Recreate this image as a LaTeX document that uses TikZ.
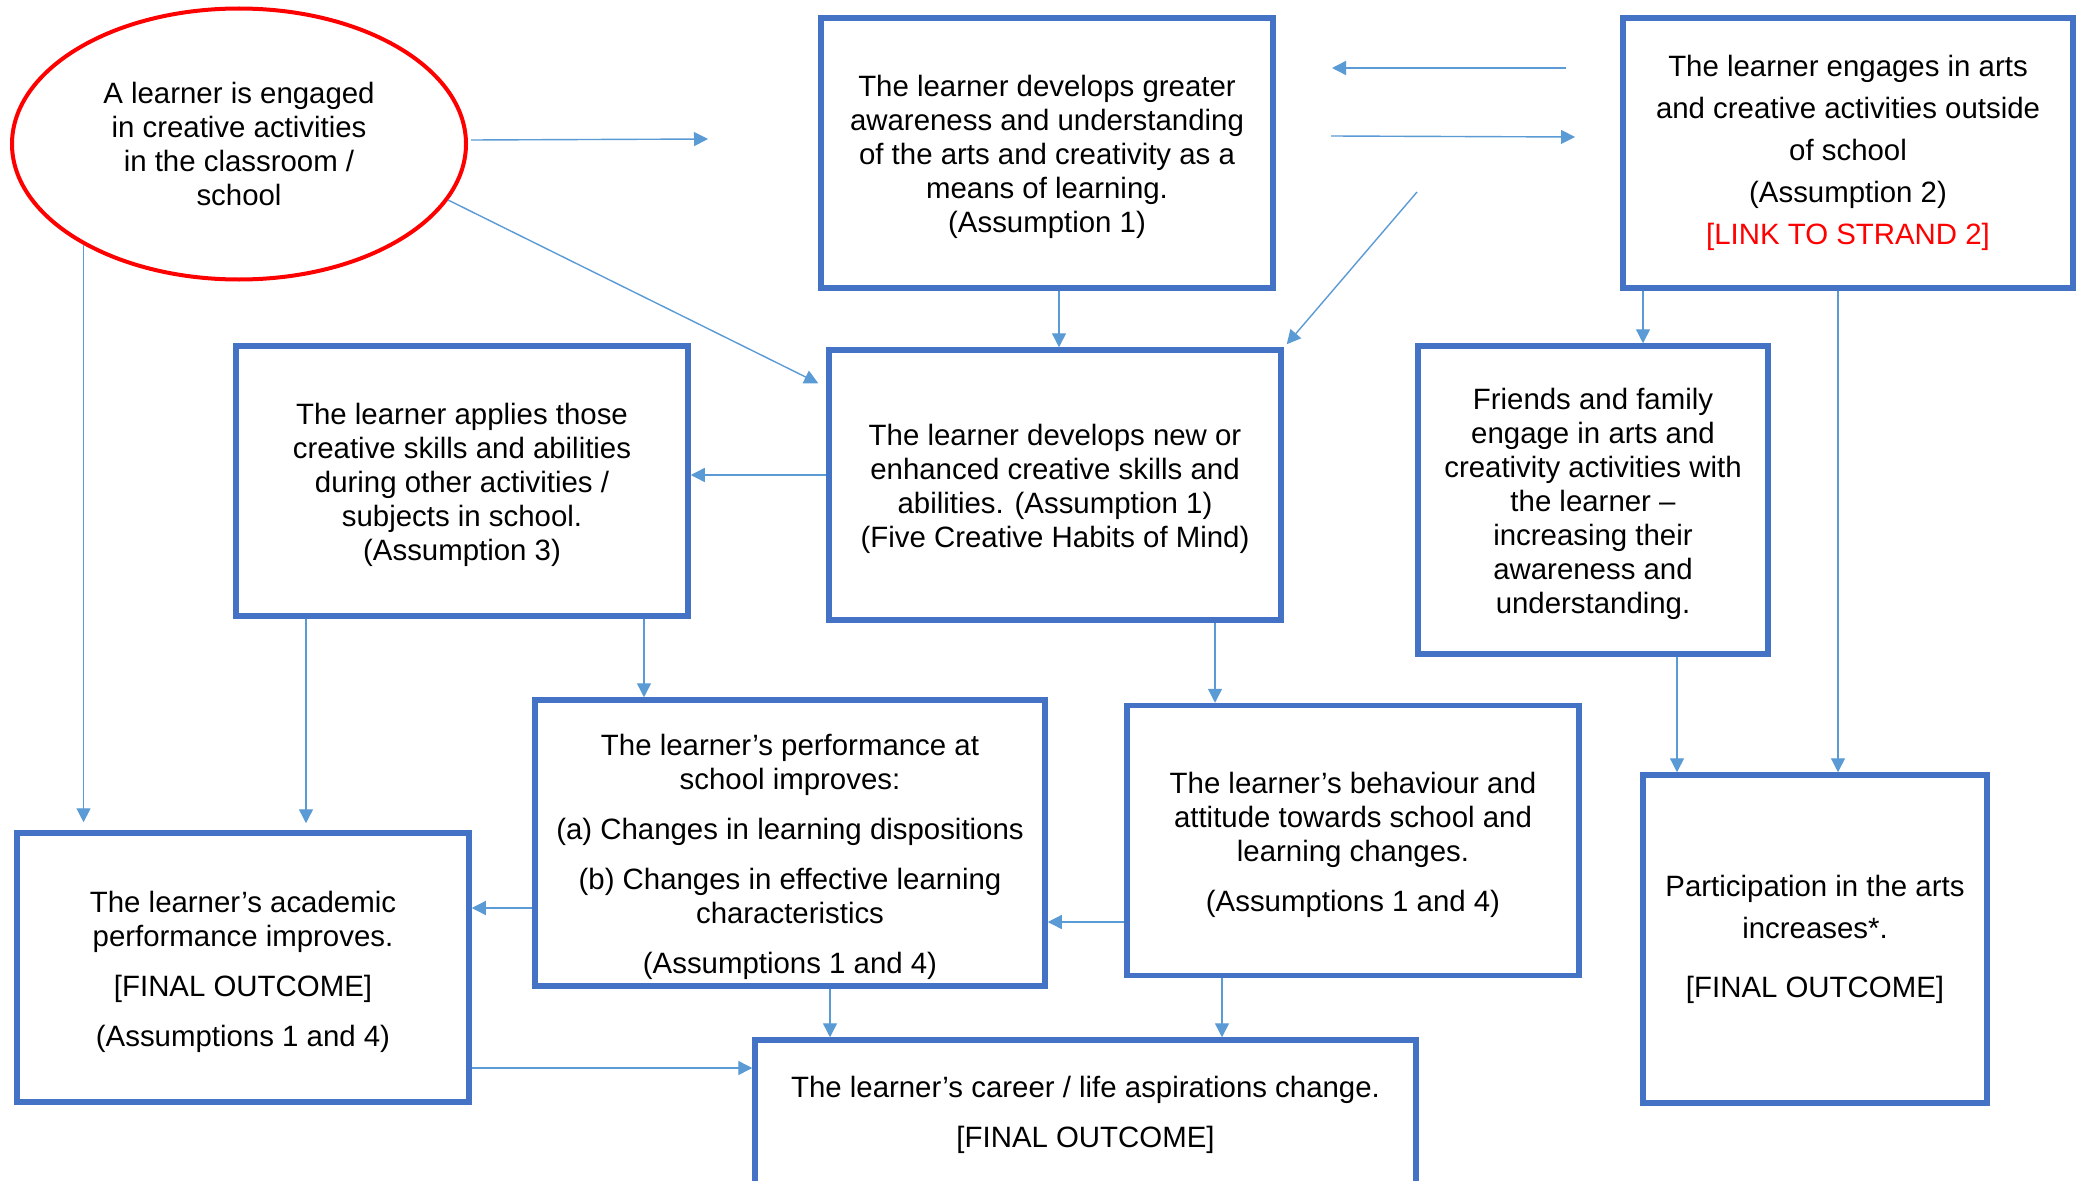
\documentclass[tikz,border=0pt]{standalone}
\usepackage{fontspec}
\setmainfont{Liberation Sans}
\usetikzlibrary{arrows.meta,calc,shapes.geometric}
\definecolor{boxblue}{HTML}{4472C4}
\definecolor{arrblue}{HTML}{5B9BD5}
\definecolor{linkred}{HTML}{FF0000}
\begin{document}
\begin{tikzpicture}[x=1pt,y=-1pt,
  box/.style={draw=boxblue,line width=5.5pt,rectangle,inner sep=0pt,align=center,
    font=\fontsize{29.4}{34}\selectfont},
  txt/.style={inner sep=0pt,align=center,font=\fontsize{29.4}{34}\selectfont},
  ell/.style={draw=red,line width=4pt,ellipse,inner sep=0pt,align=center,
    font=\fontsize{29.4}{34}\selectfont},
  arr/.style={draw=arrblue,line width=1.4pt,-{Triangle[length=14pt,width=14pt]}},
  ]
\useasboundingbox (0,0) rectangle (2076,1180);
\fill[white] (0,0) rectangle (2076,1180);

% nodes
\node[ell,minimum width=454pt,minimum height=271pt] (L) at (239,144)
  {A learner is engaged\\in creative activities\\in the classroom /\\school};
\node[box,minimum width=452pt,minimum height=270pt] (A) at (1047,153) {};
\node[txt] (At) at (1047,157)
  {The learner develops greater\\awareness and understanding\\of the arts and creativity as a\\means of learning.\\(Assumption 1)};
\node[box,minimum width=450pt,minimum height=270pt,font=\fontsize{29.4}{42}\selectfont] (D) at (1848,153)
  {The learner engages in arts\\and creative activities outside\\of school\\(Assumption 2)\\{\color{linkred}[LINK TO STRAND 2]}};
\node[box,minimum width=452pt,minimum height=270pt] (C) at (462,481) {};
\node[txt] (Ct) at (462,485)
  {The learner applies those\\creative skills and abilities\\during other activities /\\subjects in school.\\(Assumption 3)};
\node[box,minimum width=452pt,minimum height=270pt] (B) at (1055,485) {};
\node[txt] (Bt) at (1055,489)
  {The learner develops new or\\enhanced creative skills and\\abilities. (Assumption 1)\\(Five Creative Habits of Mind)};
\node[box,minimum width=350pt,minimum height=308pt] (E) at (1593,500) {};
\node[txt] (Et) at (1593,504)
  {Friends and family\\engage in arts and\\creativity activities with\\the learner –\\increasing their\\awareness and\\understanding.};
\node[box,minimum width=510pt,minimum height=286pt] (H) at (790,843) {};
\node[txt] (Ht) at (790,857)
  {The learner’s performance at\\school improves:\\[16pt](a) Changes in learning dispositions\\[16pt](b) Changes in effective learning\\characteristics\\[16pt](Assumptions 1 and 4)};
\node[box,minimum width=452pt,minimum height=269pt] (G) at (243,967.5) {};
\node[txt] (Gt) at (243,971.5)
  {The learner’s academic\\performance improves.\\[16pt]{[FINAL OUTCOME]}\\[16pt](Assumptions 1 and 4)};
\node[box,minimum width=452pt,minimum height=270pt] (J) at (1353,840.5) {};
\node[txt] (Jt) at (1353,844.5)
  {The learner’s behaviour and\\attitude towards school and\\learning changes.\\[16pt](Assumptions 1 and 4)};
\node[box,minimum width=344pt,minimum height=328pt,font=\fontsize{29.4}{42}\selectfont] (K) at (1815,939)
  {Participation in the arts\\increases*.\\[17pt]{[FINAL OUTCOME]}};
\node[box,minimum width=661pt,minimum height=150pt] (I) at (1085.5,1115)
  {The learner’s career / life aspirations change.\\[16pt]{[FINAL OUTCOME]}};

% helper coordinates
\coordinate (f1) at (708,139);
\coordinate (f2s) at (1566,68);
\coordinate (f2e) at (1332,68);
\coordinate (f3s) at (1331,136);
\coordinate (f3e) at (1575,137);
\coordinate (f4) at (1417,192);
\coordinate (x1059) at (1059,0);
\coordinate (x1643) at (1643,0);
\coordinate (x1838) at (1838,0);
\coordinate (x306) at (306,0);
\coordinate (x644) at (644,0);
\coordinate (x1215) at (1215,0);
\coordinate (x1677) at (1677,0);
\coordinate (x830) at (830,0);
\coordinate (x1222) at (1222,0);
\coordinate (y475) at (0,475);
\coordinate (y908) at (0,908);
\coordinate (y922) at (0,922);
\coordinate (y1068) at (0,1068);

% connectors
\draw[arr] ($(L.east)+(3,-4)$) -- (f1);
\draw[arr] (f2s) -- (f2e);
\draw[arr] (f3s) -- (f3e);
\draw[arr] (f4) -- ($(B.north east)+(3,-3)$);
\draw[arr] (L.-15.8) -- ($(B.north west)+(-8,36)$);
\draw[arr] (A.south -| x1059) -- (B.north -| x1059);
\draw[arr] (B.west |- y475) -- (C.east |- y475);
\draw[arr] (D.south -| x1643) -- (E.north -| x1643);
\draw[arr] (D.south -| x1838) -- (K.north -| x1838);
\draw[arr,shorten >=8pt] (L.213) -- (L.213 |- G.north);
\draw[arr,shorten >=7pt] (C.south -| x306) -- (G.north -| x306);
\draw[arr] (C.south -| x644) -- (H.north -| x644);
\draw[arr] (B.south -| x1215) -- (J.north -| x1215);
\draw[arr] (E.south -| x1677) -- (K.north -| x1677);
\draw[arr] (H.west |- y908) -- (G.east |- y908);
\draw[arr] (J.west |- y922) -- (H.east |- y922);
\draw[arr] (H.south -| x830) -- (I.north -| x830);
\draw[arr] (J.south -| x1222) -- (I.north -| x1222);
\draw[arr] (G.east |- y1068) -- (I.west |- y1068);
\end{tikzpicture}
\end{document}
